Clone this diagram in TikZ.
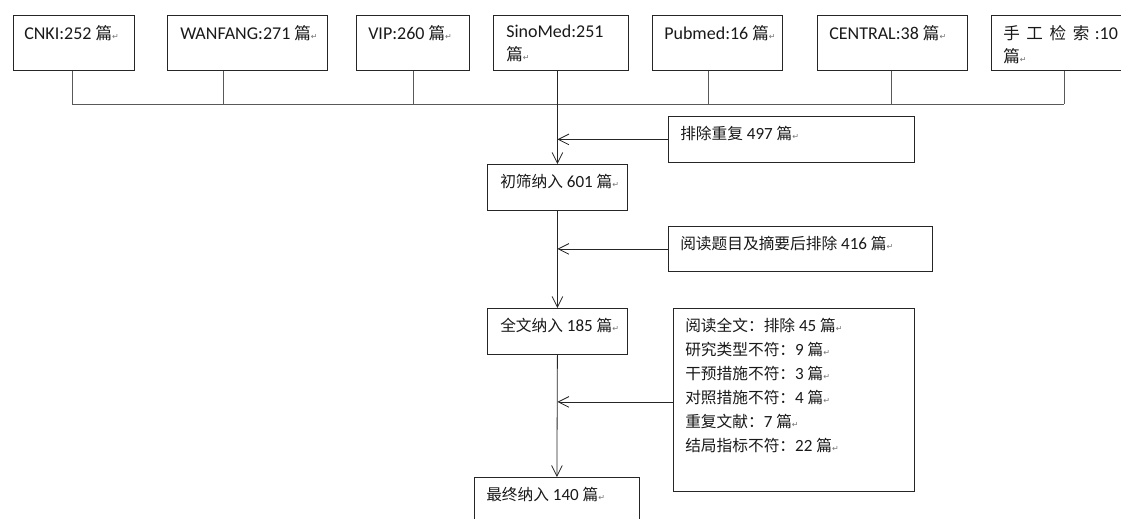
\documentclass[tikz,border=0pt]{standalone}
\usepackage{fontspec}
\setmainfont{Carlito}
\newfontfamily\cjk{Noto Sans CJK SC}[Scale=0.92]
\newfontfamily\symfont{DejaVu Sans}
\usetikzlibrary{arrows.meta,positioning}
\newcommand{\pmk}{{\symfont\fontsize{6}{6}\selectfont\textcolor{black!55}{↵}}}
\newcommand{\pian}{{\cjk 篇}\pmk}

\tikzset{
  dbbox/.style 2 args={draw=black!85, line width=0.6pt, anchor=north west, inner sep=0pt,
    minimum width=#1*0.75pt, minimum height=#2*0.75pt},
  boxtext/.style={anchor=north west, inner sep=0pt, align=left, text=black!90,
    font=\fontsize{13.5}{17.3}\selectfont},
  steptext/.style={anchor=north west, inner sep=0pt, align=left, text=black!90,
    font=\fontsize{12.8}{18}\selectfont},
  busline/.style={draw=black!65, line width=0.6pt},
  flowline/.style={draw=black!85, line width=0.6pt, -{Straight Barb[length=8pt,width=8pt]}},
}

\begin{document}
\begin{tikzpicture}[x=0.75pt,y=-0.75pt]
\useasboundingbox (0,0) rectangle (1121,518);
\clip (0,0) rectangle (1121,518);

%Shape: Rectangle -- databases
\node[dbbox={121}{55}] (cnki) at (13,15) {};
\node[dbbox={160}{55}] (wanfang) at (167,15) {};
\node[dbbox={113}{55}] (vip) at (356,15) {};
\node[dbbox={135}{55}] (sinomed) at (493,15) {};
\node[dbbox={130}{55}] (pubmed) at (652,15) {};
\node[dbbox={150}{55}] (central) at (817,15) {};
\node[dbbox={150}{55}] (manual) at (991,15) {};

\node[boxtext] (cnki-t) at ([shift={(11,10)}]cnki.north west) {CNKI:252 \pian};
\node[boxtext] (wanfang-t) at ([shift={(13,10)}]wanfang.north west) {WANFANG:271 \pian};
\node[boxtext] (vip-t) at ([shift={(12,10)}]vip.north west) {VIP:260 \pian};
\node[boxtext] (sinomed-t) at ([shift={(13,10)}]sinomed.north west) {SinoMed:251\\\pian};
\node[boxtext] (pubmed-t) at ([shift={(12,10)}]pubmed.north west) {Pubmed:16 \pian};
\node[boxtext] (central-t) at ([shift={(12,10)}]central.north west) {CENTRAL:38 \pian};
\node[boxtext] (manual-t) at ([shift={(12,10)}]manual.north west)
  {{\cjk 手\hspace{5pt}工\hspace{5pt}检\hspace{5pt}索}\hspace{4pt}:10\\\pian};

%Shape: Rectangle -- screening steps
\node[dbbox={246}{46}] (dup) at (668,116) {};
\node[dbbox={140}{46}] (screen) at (487,164) {};
\node[dbbox={264}{45}] (title) at (668,226) {};
\node[dbbox={140}{46}] (fulltext) at (487,308) {};
\node[dbbox={241}{183}] (reason) at (673,308) {};
\node[dbbox={165}{60}] (final) at (474,477) {};

\node[steptext] (dup-t) at ([shift={(12,10)}]dup.north west) {{\cjk 排除重复} 497 \pian};
\node[steptext] (screen-t) at ([shift={(13,10)}]screen.north west) {{\cjk 初筛纳入} 601 \pian};
\node[steptext] (title-t) at ([shift={(12,10)}]title.north west) {{\cjk 阅读题目及摘要后排除} 416 \pian};
\node[steptext] (fulltext-t) at ([shift={(13,10)}]fulltext.north west) {{\cjk 全文纳入} 185 \pian};
\node[steptext] (reason-t) at ([shift={(12,10)}]reason.north west)
  {{\cjk 阅读全文：排除} 45 \pian\\
   {\cjk 研究类型不符：}9 \pian\\
   {\cjk 干预措施不符：}3 \pian\\
   {\cjk 对照措施不符：}4 \pian\\
   {\cjk 重复文献：}7 \pian\\
   {\cjk 结局指标不符：}22 \pian};
\node[steptext] (final-t) at ([shift={(12,10)}]final.north west) {{\cjk 最终纳入} 140 \pian};

%Straight Lines -- bus
\coordinate (bus-l) at (72,104);
\coordinate (bus-r) at (1064,104);
\draw[busline] (bus-l) -- (bus-r);
\foreach \nm/\bx in {cnki/72, wanfang/223, vip/413, pubmed/708, central/891, manual/1064}{
  \coordinate (stub-\nm) at (\bx,104);
  \draw[busline] (\nm.south -| stub-\nm) -- (stub-\nm);
}

%Straight Lines -- main flow
\draw[flowline] (sinomed.south -| screen.north) -- (screen.north);
\draw[flowline] (screen.south) -- (fulltext.north);
\draw[flowline] (fulltext.south) -- (final.north);

%Straight Lines -- exclusions
\draw[flowline] (dup.west) -- (dup.west -| screen.north);
\draw[flowline] (title.west) -- (title.west -| screen.north);
\draw[flowline] ([yshift=-1.5pt]reason.west) -- ([yshift=-1.5pt]reason.west -| fulltext.north);

\end{tikzpicture}
\end{document}
